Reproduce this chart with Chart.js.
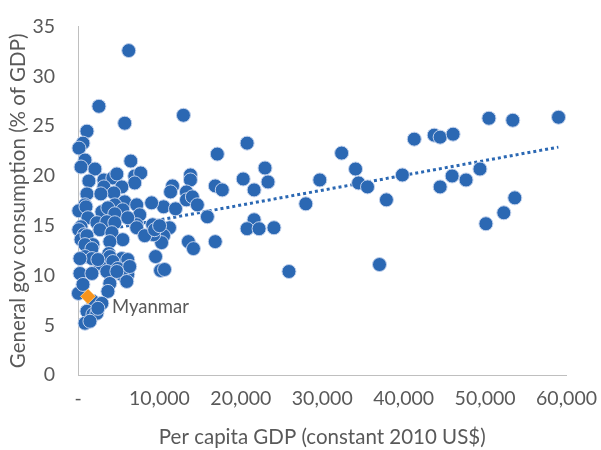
<!DOCTYPE html>
<html>
<head>
<meta charset="utf-8">
<script src="https://cdn.jsdelivr.net/npm/chart.js@4"></script>
<style>
  html, body { margin: 0; padding: 0; background: #fff; }
  canvas { display: block; }
</style>
</head>
<body>
<canvas id="chart" width="601" height="450"></canvas>
<script>
// per capita GDP (constant 2010 US$) and general gov consumption (% of GDP)
const gdp = [
  6230, 2570, 12950, 5740, 20770, 17110, 22970, 13810, 13810, 20290,
  23340, 11610, 11370, 16860, 17720, 21630, 13320, 13320, 14050, 14660,
  10510, 11980, 15890, 11240, 10510, 10270, 13560, 14180, 16860, 21630,
  20770, 22240, 24070, 9530, 10140, 10630, 25910, 29700, 27980, 32380,
  34090, 34460, 35560, 37880, 39840, 41300, 43750, 44480, 46070, 44480,
  45950, 47660, 49370, 50470, 53400, 59020, 53650, 52300, 50100, 37030,
  1100, 610, 120, 860, 370, 2080, 6480, 1340, 3180, 4280,
  4770, 6970, 7700, 6970, 3180, 5380, 4400, 1100, 2810, 860,
  5740, 4520, 7210, 9040, 100, 980, 2930, 3670, 5500, 4520,
  1220, 2320, 3540, 4520, 7580, 9170, 7210, 370, 100, 730,
  370, 1100, 2690, 4160, 5500, 1830, 3910, 3790, 860, 1710,
  860, 1710, 2690, 5380, 6110, 3910, 5990, 4280, 240, 1710,
  3540, 6110, 4890, 5380, 50, 610, 3910, 3670, 1830, 2930,
  1100, 1830, 860, 6110, 7210, 9290, 8190, 6350, 5990, 9410,
  10020, 2440, 240, 4770, 2320, 1470, 2440
];
const govCons = [
  32.6, 27.0, 26.1, 25.3, 23.3, 22.2, 20.8, 20.1, 19.6, 19.7,
  19.4, 19.0, 18.4, 19.0, 18.6, 18.6, 18.4, 17.6, 17.9, 17.1,
  16.9, 16.7, 15.9, 14.8, 14.0, 13.3, 13.4, 12.7, 13.4, 15.6,
  14.7, 14.7, 14.8, 11.9, 10.5, 10.6, 10.4, 19.6, 17.2, 22.3,
  20.7, 19.3, 18.9, 17.6, 20.1, 23.7, 24.1, 23.9, 24.2, 18.9,
  20.0, 19.6, 20.7, 25.8, 25.6, 25.9, 17.8, 16.3, 15.2, 11.1,
  24.5, 23.3, 22.8, 21.6, 20.9, 20.7, 21.5, 19.5, 19.6, 19.8,
  20.2, 20.0, 20.3, 19.3, 18.9, 18.9, 18.3, 18.2, 18.2, 17.1,
  17.4, 17.1, 17.1, 17.3, 16.5, 16.9, 16.4, 16.8, 16.6, 16.2,
  15.8, 15.3, 15.4, 15.3, 16.1, 15.1, 15.1, 14.9, 14.6, 14.1,
  13.6, 14.0, 14.6, 14.3, 13.6, 13.1, 13.4, 12.2, 13.1, 12.7,
  11.9, 11.7, 11.2, 11.7, 11.6, 11.9, 10.7, 11.4, 10.2, 10.2,
  10.4, 10.1, 10.7, 10.1, 8.2, 9.1, 9.2, 8.4, 7.4, 7.2,
  6.4, 6.1, 5.2, 15.8, 14.8, 14.1, 14.0, 10.9, 9.4, 14.6,
  15.0, 11.6, 11.7, 10.4, 6.2, 5.4, 6.7
];

const highlightName = "Myanmar";
const highlightX = [1220];
const highlightY = [7.9];

// linear trendline endpoints
const trendX = [100, 59000];
const trendY = [14.1, 22.9];

const xTickStep = 10000;
const yTickStep = 5;

const textColor = "#595959";
const fontFamily = "Lato, 'Open Sans', sans-serif";

const pointLabel = {
  id: "pointLabel",
  afterDatasetsDraw(chart) {
    const pt = chart.getDatasetMeta(0).data[0];
    if (!pt) return;
    const ctx = chart.ctx;
    ctx.save();
    ctx.font = "18.5px " + fontFamily;
    ctx.fillStyle = textColor;
    ctx.textBaseline = "middle";
    ctx.fillText(highlightName, pt.x + 24, pt.y + 11);
    ctx.restore();
  }
};

new Chart(document.getElementById("chart"), {
  type: "scatter",
  data: {
    datasets: [
      {
        label: highlightName,
        data: highlightX.map((x, i) => ({ x: x, y: highlightY[i] })),
        pointStyle: "rectRot",
        pointRadius: 7.5,
        backgroundColor: "#F7941D",
        borderColor: "#FBC57E",
        borderWidth: 1,
        order: 0,
        clip: false
      },
      {
        label: "Countries",
        data: gdp.map((x, i) => ({ x: x, y: govCons[i] })),
        pointRadius: 7,
        backgroundColor: "#2B68B3",
        borderColor: "#C3D2EC",
        borderWidth: 1,
        order: 1,
        clip: false
      },
      {
        type: "line",
        label: "Trend",
        data: trendX.map((x, i) => ({ x: x, y: trendY[i] })),
        showLine: true,
        pointRadius: 0,
        borderColor: "#2B68B3",
        borderWidth: 3,
        borderDash: [3, 3],
        borderCapStyle: "butt",
        fill: false,
        order: 2
      }
    ]
  },
  options: {
    responsive: false,
    animation: false,
    layout: { padding: { left: 0, right: 0, top: 10, bottom: 0 } },
    plugins: {
      legend: { display: false },
      tooltip: { enabled: false }
    },
    scales: {
      x: {
        min: 0,
        max: 60000,
        afterFit: (s) => { s.height = 75; },
        grid: { display: false },
        border: { display: true, color: "#BFBFBF", width: 1 },
        ticks: {
          stepSize: xTickStep,
          color: textColor,
          font: { family: fontFamily, size: 19.5 },
          padding: 4,
          maxRotation: 0,
          callback: (v) => (v === 0 ? "-" : v.toLocaleString("en-US"))
        },
        title: {
          display: true,
          text: "Per capita GDP (constant 2010 US$)",
          color: textColor,
          font: { family: fontFamily, size: 20.5 },
          padding: { top: 4, bottom: 0 }
        }
      },
      y: {
        min: 0,
        max: 35,
        afterFit: (s) => { s.width = 78; },
        grid: { display: false },
        border: { display: true, color: "#BFBFBF", width: 1 },
        ticks: {
          stepSize: yTickStep,
          color: textColor,
          font: { family: fontFamily, size: 19.5 },
          padding: 15
        },
        title: {
          display: true,
          text: "General gov consumption (% of GDP)",
          color: textColor,
          font: { family: fontFamily, size: 20.5 },
          padding: { top: 6, bottom: 0 }
        }
      }
    }
  },
  plugins: [pointLabel]
});
</script>
</body>
</html>
